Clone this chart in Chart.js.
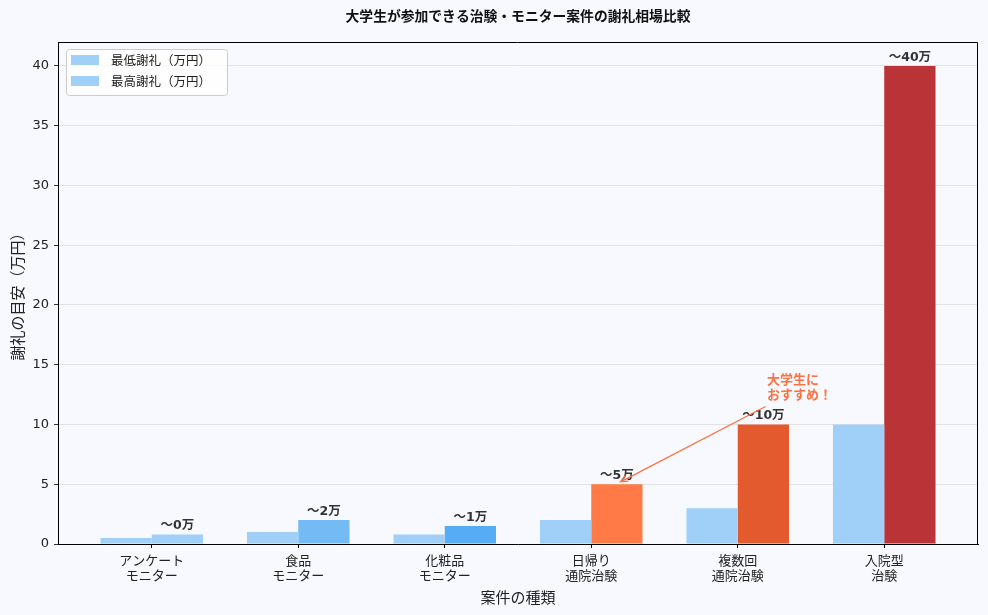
<!DOCTYPE html>
<html lang="ja">
<head>
<meta charset="utf-8">
<title>謝礼相場比較</title>
<script src="https://cdn.jsdelivr.net/npm/chart.js@4.4.1/dist/chart.umd.min.js"></script>
<style>
  html, body { margin: 0; padding: 0; background: #f8f9fe; }
</style>
</head>
<body>
<canvas id="rewardChart" width="988" height="615"></canvas>
<script>
// data
const categories = [
  ["アンケート", "モニター"],
  ["食品", "モニター"],
  ["化粧品", "モニター"],
  ["日帰り", "通院治験"],
  ["複数回", "通院治験"],
  ["入院型", "治験"]
];
const minReward = [0.5, 1, 0.8, 2, 3, 10];
const maxReward = [0.8, 2, 1.5, 5, 10, 40];
const seriesNames = ["最低謝礼（万円）", "最高謝礼（万円）"];
const yTicks = [0, 5, 10, 15, 20, 25, 30, 35, 40];

const titleText = "大学生が参加できる治験・モニター案件の謝礼相場比較";
const noteLines = ["大学生に", "おすすめ！"];
const noteHead = { x: 3.2, y: 5.2 };   // arrow tip, data units
const noteTail = { x: 4.19, y: 11.5 };
const noteAt = { x: 4.2, y: 12 };

const minColor = "#a0d0f7";
const maxColors = ["#a0d0f7", "#74bbf5", "#56acf5", "#ff7a46", "#e35a2f", "#ba3337"];
const noteColor = "#ff7043";

const FONT = "'DejaVu Sans', 'Noto Sans CJK JP', sans-serif";
const CJK = "'Noto Sans CJK JP', 'DejaVu Sans', sans-serif";

const extras = {
  id: "extras",
  afterDraw(chart) {
    const { ctx, chartArea: a, scales: { x, y } } = chart;
    ctx.save();

    // frame top/right
    ctx.strokeStyle = "#000";
    ctx.lineWidth = 1;
    ctx.beginPath();
    ctx.moveTo(a.left, a.top + 0.5);
    ctx.lineTo(a.right - 0.5, a.top + 0.5);
    ctx.lineTo(a.right - 0.5, a.bottom);
    ctx.stroke();

    // title
    ctx.fillStyle = "#111";
    ctx.font = "bold 13.8px " + CJK;
    ctx.textAlign = "center";
    ctx.textBaseline = "middle";
    ctx.fillText(titleText, (a.left + a.right) / 2, 16);

    // value labels on max bars
    ctx.font = "bold 12.5px " + FONT;
    ctx.fillStyle = "#333";
    ctx.textBaseline = "alphabetic";
    chart.getDatasetMeta(1).data.forEach((bar, i) => {
      ctx.fillText("〜" + Math.floor(maxReward[i]) + "万", bar.x, bar.y - 5);
    });

    // annotation
    const hx = x.getPixelForValue(noteHead.x), hy = y.getPixelForValue(noteHead.y);
    const tx = x.getPixelForValue(noteTail.x), ty = y.getPixelForValue(noteTail.y);
    ctx.strokeStyle = noteColor;
    ctx.lineWidth = 1.3;
    ctx.beginPath();
    ctx.moveTo(tx, ty);
    ctx.lineTo(hx, hy);
    const ang = Math.atan2(hy - ty, hx - tx);
    ctx.moveTo(hx - 8 * Math.cos(ang - 0.4), hy - 8 * Math.sin(ang - 0.4));
    ctx.lineTo(hx, hy);
    ctx.lineTo(hx - 8 * Math.cos(ang + 0.4), hy - 8 * Math.sin(ang + 0.4));
    ctx.stroke();

    ctx.fillStyle = noteColor;
    ctx.font = "bold 13px " + CJK;
    ctx.textAlign = "left";
    ctx.textBaseline = "bottom";
    const nx = x.getPixelForValue(noteAt.x), ny = y.getPixelForValue(noteAt.y);
    noteLines.forEach((line, i) => {
      ctx.fillText(line, nx, ny - (noteLines.length - 1 - i) * 15);
    });

    // legend box
    ctx.font = "12.5px " + CJK;
    const tw = Math.max(...seriesNames.map(s => ctx.measureText(s).width));
    const bx = a.left + 8, by = a.top + 7, bw = 45 + tw + 16, bh = 46;
    ctx.fillStyle = "rgba(255,255,255,0.8)";
    ctx.strokeStyle = "#cccccc";
    ctx.lineWidth = 1;
    ctx.beginPath();
    ctx.roundRect(bx + 0.5, by + 0.5, bw, bh, 3);
    ctx.fill();
    ctx.stroke();
    ctx.textBaseline = "middle";
    seriesNames.forEach((name, i) => {
      const cy = by + 11 + i * 21;
      ctx.fillStyle = i === 0 ? minColor : maxColors[0];
      ctx.fillRect(bx + 5, cy - 5, 28, 10);
      ctx.fillStyle = "#222";
      ctx.fillText(name, bx + 45, cy);
    });

    ctx.restore();
  }
};

new Chart(document.getElementById("rewardChart"), {
  type: "bar",
  data: {
    datasets: [
      {
        label: seriesNames[0],
        data: categories.map((c, i) => ({ x: i, y: minReward[i] })),
        backgroundColor: minColor,
        borderWidth: 0
      },
      {
        label: seriesNames[1],
        data: categories.map((c, i) => ({ x: i, y: maxReward[i] })),
        backgroundColor: maxColors,
        borderWidth: 0
      }
    ]
  },
  options: {
    responsive: false,
    animation: false,
    categoryPercentage: 0.7,
    barPercentage: 1.0,
    layout: { padding: { top: 42, right: 10, left: 0, bottom: 0 } },
    plugins: {
      legend: { display: false },
      tooltip: { enabled: false }
    },
    scales: {
      x: {
        type: "linear",
        min: -0.64,
        max: 5.64,
        offset: false,
        afterBuildTicks: (scale) => { scale.ticks = categories.map((c, i) => ({ value: i })); },
        afterFit: (scale) => { scale.height = 71; },
        ticks: {
          callback: (v) => categories[v],
          font: { family: CJK, size: 13, lineHeight: 1.15 },
          color: "#222",
          padding: 5,
          maxRotation: 0,
          autoSkip: false
        },
        grid: { offset: false, drawOnChartArea: false, tickColor: "#000", tickLength: 4 },
        border: { color: "#000", width: 1 },
        title: {
          display: true,
          text: "案件の種類",
          font: { family: CJK, size: 15 },
          color: "#222",
          padding: { top: 0, bottom: 9 }
        }
      },
      y: {
        min: 0,
        max: 42,
        afterBuildTicks: (scale) => { scale.ticks = yTicks.map(v => ({ value: v })); },
        afterFit: (scale) => { scale.width = 58; },
        ticks: {
          font: { family: FONT, size: 13 },
          color: "#222",
          padding: 5
        },
        grid: { color: "#dcdcdc", lineWidth: 0.8, tickColor: "#000", tickLength: 4 },
        border: { color: "#000", width: 1 },
        title: {
          display: true,
          text: "謝礼の目安（万円）",
          font: { family: CJK, size: 15 },
          color: "#222",
          padding: { top: 8, bottom: 0 }
        }
      }
    }
  },
  plugins: [extras]
});
</script>
</body>
</html>
